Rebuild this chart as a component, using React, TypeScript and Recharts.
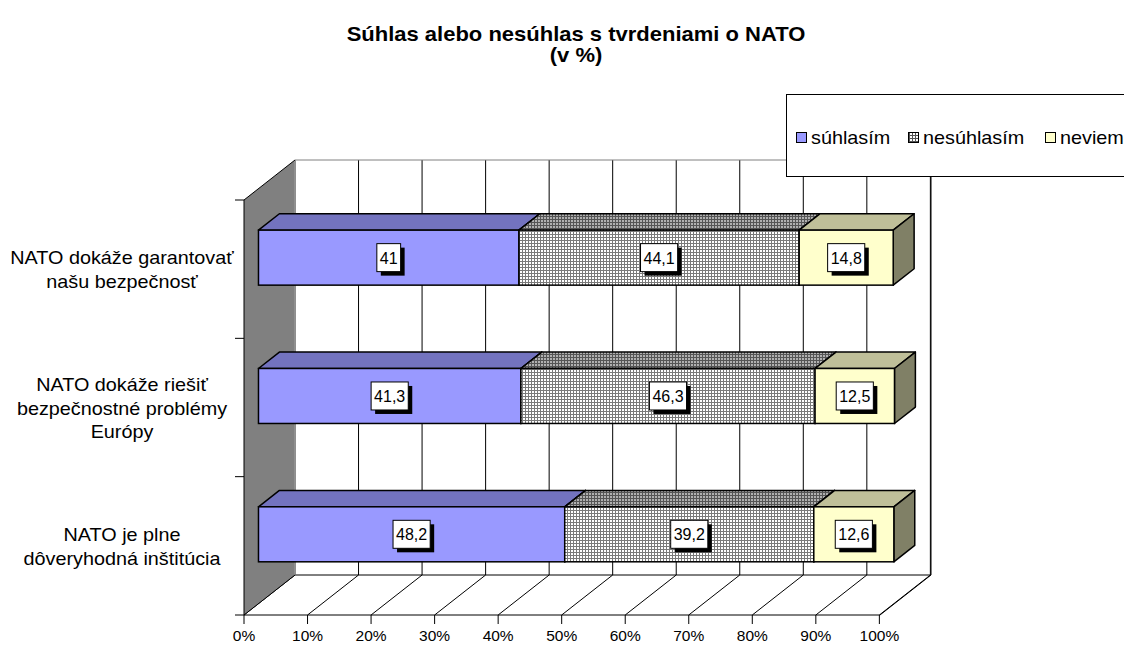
import { BarChart, Bar, XAxis, YAxis, CartesianGrid, ReferenceArea, LabelList } from 'recharts';

// statements (y categories), top to bottom
const categories = [
  'NATO dokáže garantovať\nnašu bezpečnosť',
  'NATO dokáže riešiť\nbezpečnostné problémy\nEurópy',
  'NATO je plne\ndôveryhodná inštitúcia',
];
const suhlasim = [41, 41.3, 48.2];
const nesuhlasim = [44.1, 46.3, 39.2];
const neviem = [14.8, 12.5, 12.6];
const seriesNames = ['súhlasím', 'nesúhlasím', 'neviem'];
const xTicks = [0, 10, 20, 30, 40, 50, 60, 70, 80, 90, 100];

const data = categories.map((name, i) => ({
  name,
  suhlasim: suhlasim[i],
  nesuhlasim: nesuhlasim[i],
  neviem: neviem[i],
}));

const FONT = '"Liberation Sans", Arial, sans-serif';
const SX = 1.1; // the original text is a bit wider than Arial

// 3D depth of the box (wall) and of the bars inside it
const DX = 51;
const DY = 40;
const BAR_FROM = 0.284;
const BAR_DEPTH = 0.41;

function StretchText({ x, y, size, weight, anchor, sx, children }: any) {
  return (
    <text
      transform={`translate(${x},${y}) scale(${sx ?? SX},1)`}
      textAnchor={anchor || 'start'}
      fontSize={size}
      fontWeight={weight || 'normal'}
      fontFamily={FONT}
      fill="#000"
    >
      {children}
    </text>
  );
}

function WallShape(props: any) {
  const { x, y, width, height } = props;
  const bottom = y + height;
  const n = categories.length;
  return (
    <g>
      {/* back wall top and floor back edge */}
      <line x1={x + DX} y1={y - DY} x2={x + width + DX} y2={y - DY} stroke="#808080" />
      <line x1={x + DX} y1={bottom - DY} x2={x + width + DX} y2={bottom - DY} stroke="#000" />
      {/* left side wall */}
      <polygon
        points={`${x},${y} ${x + DX},${y - DY} ${x + DX},${bottom - DY} ${x},${bottom}`}
        fill="#808080"
        stroke="none"
      />
      <line x1={x + DX} y1={y - DY} x2={x + DX} y2={bottom - DY} stroke="#a0a0a0" />
      <line x1={x} y1={y} x2={x + DX} y2={y - DY} stroke="#000" />
      <line x1={x} y1={bottom} x2={x + DX} y2={bottom - DY} stroke="#000" />
      {/* category boundary ticks */}
      {Array.from({ length: n + 1 }, (_, k) => (
        <line key={k} x1={x - 9} y1={y + (k * height) / n} x2={x} y2={y + (k * height) / n} stroke="#000" />
      ))}
    </g>
  );
}

function gridLine(props: any) {
  const { x1, y1, y2, index } = props;
  return (
    <g key={`g-${index}-${x1}`}>
      <line x1={x1 + DX} y1={y1 - DY} x2={x1 + DX} y2={y2 - DY} stroke="#000" strokeWidth={1} />
      <line x1={x1} y1={y2} x2={x1 + DX} y2={y2 - DY} stroke="#000" strokeWidth={1} />
    </g>
  );
}

function makeBox(front: string, top: string, side: string) {
  return (props: any) => {
    const { x, y, width, height } = props;
    if (width == null || height == null) return <g />;
    const fx = x + DX * BAR_FROM;
    const fy = y - DY * BAR_FROM;
    const bx = DX * BAR_DEPTH;
    const by = DY * BAR_DEPTH;
    return (
      <g>
        <polygon
          points={`${fx},${fy} ${fx + bx},${fy - by} ${fx + width + bx},${fy - by} ${fx + width},${fy}`}
          fill={top}
          stroke="#000"
          strokeWidth={1.5}
          strokeLinejoin="round"
        />
        <polygon
          points={`${fx + width},${fy} ${fx + width + bx},${fy - by} ${fx + width + bx},${fy - by + height} ${fx + width},${fy + height}`}
          fill={side}
          stroke="#000"
          strokeWidth={1.5}
          strokeLinejoin="round"
        />
        <rect x={fx} y={fy} width={width} height={height} fill={front} stroke="#000" strokeWidth={1.5} />
      </g>
    );
  };
}

function ValueLabel(props: any) {
  const vb = props.viewBox && props.viewBox.width != null ? props.viewBox : props;
  const { x, y, width, height } = vb;
  const text = String(props.value).replace('.', ',');
  const digits = text.replace(',', '').length;
  const commas = text.length - digits;
  const tw = (digits * 0.556 + commas * 0.278) * 16;
  const w = tw + 6;
  const h = 28;
  const cx = x + DX * BAR_FROM + width / 2;
  const cy = y - DY * BAR_FROM + height / 2;
  return (
    <g>
      <rect x={cx - w / 2 + 4} y={cy - h / 2 + 4} width={w} height={h} fill="#000" />
      <rect x={cx - w / 2} y={cy - h / 2} width={w} height={h} fill="#fff" stroke="#000" strokeWidth={1} />
      <StretchText x={cx} y={cy + 6} size={16} anchor="middle" sx={1}>{text}</StretchText>
    </g>
  );
}

function CategoryTick(props: any) {
  const { x, y, payload } = props;
  const lines = String(payload.value).split('\n');
  const cx = x - 114;
  const lh = 23.5;
  const first = y - ((lines.length - 1) * lh) / 2 + 7;
  return (
    <g>
      {lines.map((line, i) => (
        <StretchText key={i} x={cx} y={first + i * lh} size={18} anchor="middle">{line}</StretchText>
      ))}
    </g>
  );
}

function PercentTick(props: any) {
  const { x, y, payload } = props;
  return (
    <StretchText x={x} y={y + 10} size={15.5} anchor="middle" sx={1}>
      {`${payload.value}%`}
    </StretchText>
  );
}

const legendMarkers = ['#9999FF', 'url(#legendGrid)', '#FFFFCC'];
const legendX = [796, 908, 1045];

export default function App() {
  return (
    <div style={{ position: 'absolute', left: 0, top: 0, width: 1124, height: 645, background: '#fff' }}>
      <BarChart
        width={1124}
        height={645}
        data={data}
        layout="vertical"
        margin={{ top: 200, right: 244, bottom: 0, left: 0 }}
        barCategoryGap="30%"
      >
        <defs>
          <pattern id="dotGrid" width="3" height="3" patternUnits="userSpaceOnUse">
            <rect width="3" height="3" fill="#fff" />
            <path d="M0 0.5H3M0.5 0V3" stroke="#7a7a7a" strokeWidth="1" />
          </pattern>
          <pattern id="dotGridTop" width="3" height="3" patternUnits="userSpaceOnUse">
            <rect width="3" height="3" fill="#b0b0b0" />
            <path d="M0 0.5H3M0.5 0V3" stroke="#555" strokeWidth="1" />
          </pattern>
        </defs>
        <CartesianGrid horizontal={false} vertical={gridLine} />
        <ReferenceArea x1={0} x2={100} shape={WallShape} ifOverflow="visible" />
        <XAxis
          type="number"
          domain={[0, 100]}
          ticks={xTicks}
          interval={0}
          height={30}
          tickSize={9}
          tickMargin={7}
          axisLine={{ stroke: '#000' }}
          tickLine={{ stroke: '#000' }}
          tick={<PercentTick />}
        />
        <YAxis
          type="category"
          dataKey="name"
          width={244}
          tickLine={false}
          axisLine={{ stroke: '#000' }}
          tick={<CategoryTick />}
          interval={0}
        />
        <Bar dataKey="suhlasim" name={seriesNames[0]} stackId="a" fill="#9999FF" isAnimationActive={false}
          shape={makeBox('#9999FF', '#7373BF', '#4d4d80')}>
          <LabelList dataKey="suhlasim" content={<ValueLabel />} />
        </Bar>
        <Bar dataKey="nesuhlasim" name={seriesNames[1]} stackId="a" fill="url(#dotGrid)" isAnimationActive={false}
          shape={makeBox('url(#dotGrid)', 'url(#dotGridTop)', '#808080')}>
          <LabelList dataKey="nesuhlasim" content={<ValueLabel />} />
        </Bar>
        <Bar dataKey="neviem" name={seriesNames[2]} stackId="a" fill="#FFFFCC" isAnimationActive={false}
          shape={makeBox('#FFFFCC', '#BFBF99', '#808066')}>
          <LabelList dataKey="neviem" content={<ValueLabel />} />
        </Bar>
      </BarChart>
      <svg width={1124} height={645} style={{ position: 'absolute', left: 0, top: 0, pointerEvents: 'none' }}>
        <defs>
          <pattern id="legendGrid" width="3" height="3" patternUnits="userSpaceOnUse">
            <rect width="3" height="3" fill="#fff" />
            <path d="M0 0.5H3M0.5 0V3" stroke="#555" strokeWidth="1" />
          </pattern>
        </defs>
        <StretchText x={576} y={41} size={20} weight="bold" anchor="middle">Súhlas alebo nesúhlas s tvrdeniami o NATO</StretchText>
        <StretchText x={576} y={62} size={20} weight="bold" anchor="middle">(v %)</StretchText>
        <rect x={786.5} y={94.5} width={360} height={82} fill="#fff" stroke="#000" />
        {seriesNames.map((s, i) => (
          <g key={s}>
            <rect x={legendX[i] + 0.5} y={132.5} width={10} height={10} fill={legendMarkers[i]} stroke="#000" />
            <StretchText x={legendX[i] + 15} y={144} size={18}>{s}</StretchText>
          </g>
        ))}
      </svg>
    </div>
  );
}
